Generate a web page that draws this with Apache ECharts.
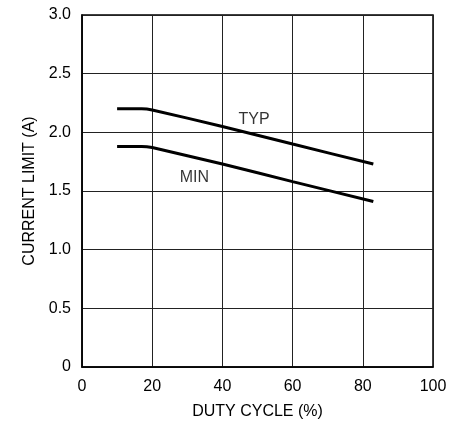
<!DOCTYPE html>
<html>
<head>
<meta charset="utf-8">
<script src="https://cdn.jsdelivr.net/npm/echarts@6/dist/echarts.min.js"></script>
<style>html,body{margin:0;padding:0;background:#fff;}#c{width:462px;height:424px;}</style>
</head>
<body>
<div id="c"></div>
<script>
var xTicks = [0, 20, 40, 60, 80, 100];
var yTicks = [0, 0.5, 1.0, 1.5, 2.0, 2.5, 3.0];
var typData = [[10, 2.20], [17, 2.20], [20, 2.19], [40, 2.05], [60, 1.90], [83, 1.73]];
var minData = [[10, 1.88], [17, 1.88], [20, 1.87], [40, 1.73], [60, 1.58], [83, 1.41]];
var curveLabels = [[49, 2.11, 'TYP'], [32, 1.61, 'MIN']];

var FONT = "'Liberation Sans', Arial, sans-serif";
var chart = echarts.init(document.getElementById('c'), null, {renderer: 'canvas'});
chart.setOption({
  animation: false,
  backgroundColor: '#fff',
  grid: {left: 82, right: 29, top: 15, bottom: 57, outerBoundsMode: 'none', containLabel: false,
    show: true, borderColor: '#000', borderWidth: 1.5},
  xAxis: {
    type: 'value', min: 0, max: 100, interval: 20,
    name: 'DUTY CYCLE (%)', nameLocation: 'middle', nameGap: 37,
    nameTextStyle: {fontFamily: FONT, fontSize: 16, color: '#000'},
    axisLine: {show: true, lineStyle: {color: '#000', width: 1.5}},
    axisTick: {show: false},
    axisLabel: {fontFamily: FONT, fontSize: 16, color: '#000', margin: 12,
      formatter: function (v) { return xTicks.indexOf(v) >= 0 ? String(v) : ''; }},
    splitLine: {show: true, lineStyle: {color: '#222', width: 1}}
  },
  yAxis: {
    type: 'value', min: 0, max: 3, interval: 0.5,
    name: 'CURRENT LIMIT (A)', nameLocation: 'middle', nameGap: 44,
    nameTextStyle: {fontFamily: FONT, fontSize: 16, color: '#000'},
    axisLine: {show: true, lineStyle: {color: '#000', width: 1.5}},
    axisTick: {show: false},
    axisLabel: {fontFamily: FONT, fontSize: 16, color: '#000', margin: 11,
      formatter: function (v) { return v === 0 ? '0' : v.toFixed(1); }},
    splitLine: {show: true, lineStyle: {color: '#222', width: 1}}
  },
  series: [
    {type: 'line', data: typData, smooth: 0.2, showSymbol: false, lineStyle: {color: '#000', width: 3}},
    {type: 'line', data: minData, smooth: 0.2, showSymbol: false, lineStyle: {color: '#000', width: 3}},
    {type: 'scatter', symbolSize: 0, data: curveLabels, silent: true,
      label: {show: true, position: 'inside', fontFamily: FONT, fontSize: 16, color: '#000',
        formatter: function (p) { return p.data[2]; }}}
  ]
});
</script>
</body>
</html>
